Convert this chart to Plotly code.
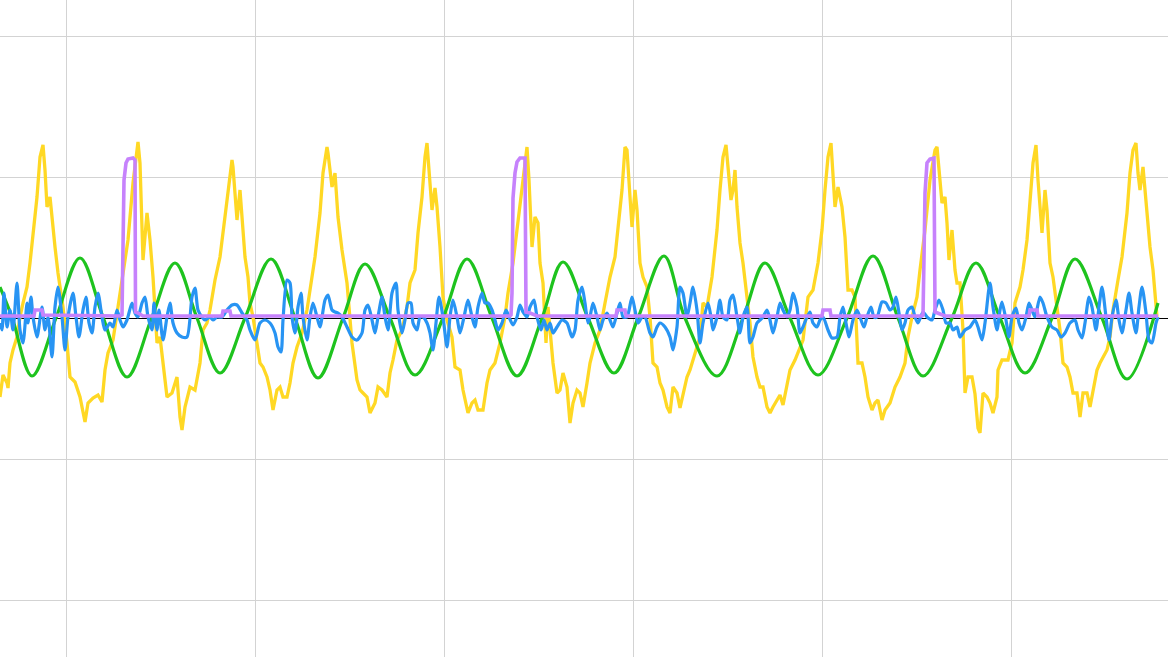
import plotly.graph_objects as go

# Time axis: sample index; vertical axis: ADC counts (1 division = 141 counts, 189 samples)
yellow_t = [0,3,7,8,10,13,17,20,23,27,30,33,37,40,43,45,47,50,52,55,58,63,67,70,75,80,85,88,93,98,102,105,108,113,118,123,128,133,137,138,140,143,147,150,153,157,160,163,167,172,177,180,182,185,190,195,200,203,207,210,215,220,225,228,232,233,237,240,242,245,248,250,253,257,260,263,267,270,273,277,280,283,287,290,293,297,302,307,310,315,320,323,327,328,332,335,338,342,347,350,352,357,360,363,367,370,375,378,382,387,390,393,397,402,407,410,415,418,422,425,427,429,432,435,437,440,443,447,452,455,460,463,468,472,475,478,483,487,490,495,500,505,508,513,518,523,527,529,532,535,538,540,543,546,548,553,557,560,563,567,570,573,577,580,583,587,590,595,600,605,610,615,618,622,625,627,630,632,635,637,640,643,647,650,653,657,660,663,667,670,673,677,680,683,687,690,695,700,703,707,712,717,720,723,726,728,731,733,735,737,740,743,747,750,753,757,760,763,767,770,773,777,780,783,787,790,795,798,803,808,813,818,822,825,828,831,833,835,838,842,845,848,852,855,858,862,865,868,872,875,878,882,885,890,895,900,905,908,912,917,920,925,930,935,937,939,942,945,947,949,952,955,957,960,963,965,968,972,975,978,980,983,987,990,993,997,998,1002,1008,1012,1015,1020,1023,1027,1030,1033,1036,1038,1042,1045,1047,1050,1053,1057,1060,1063,1067,1070,1073,1077,1080,1083,1087,1090,1093,1097,1100,1103,1107,1110,1113,1118,1122,1127,1130,1133,1136,1138,1140,1143,1147,1150,1153,1155,1157]
yellow_v = [-79,-57,-65,-70,-45,-32,-19,1,15,31,55,85,121,161,173,148,111,121,98,71,45,11,-25,-59,-64,-79,-104,-85,-80,-77,-84,-52,-35,-22,11,45,78,135,171,176,155,58,105,78,41,-25,-19,-45,-79,-75,-59,-99,-112,-89,-69,-72,-45,-12,-5,8,38,61,101,131,158,151,98,128,105,61,41,15,1,-25,-45,-49,-59,-72,-92,-72,-69,-79,-79,-65,-45,-29,-15,8,28,61,105,145,171,165,131,145,101,68,35,1,-25,-62,-72,-75,-79,-95,-85,-69,-72,-79,-55,-42,-22,-12,11,35,48,85,121,161,175,148,108,130,111,71,21,-2,-19,-49,-52,-72,-95,-85,-82,-92,-92,-65,-52,-45,-25,1,25,55,95,138,171,138,71,101,95,55,35,-25,11,-45,-75,-72,-55,-69,-105,-85,-72,-75,-89,-65,-45,-25,-12,15,41,61,88,128,171,168,121,91,128,108,55,41,31,1,-45,-49,-65,-72,-89,-95,-69,-75,-90,-75,-59,-52,-35,-19,15,11,41,88,128,161,173,148,118,128,148,111,75,55,21,-5,-39,-59,-69,-69,-89,-95,-89,-82,-77,-87,-65,-52,-42,-35,-22,21,28,55,88,128,161,175,145,111,131,111,81,28,28,21,-45,-45,-59,-79,-92,-85,-82,-102,-92,-85,-69,-59,-45,-19,1,21,48,88,138,168,171,145,115,121,95,58,88,48,35,35,-12,-75,-59,-59,-76,-110,-115,-75,-79,-85,-95,-79,-52,-42,-42,-25,15,31,48,78,121,155,173,138,85,128,108,55,41,8,-12,-45,-49,-59,-75,-75,-99,-75,-75,-89,-72,-52,-45,-39,-32,-19,8,38,61,105,145,168,175,145,128,151,108,71,48,21,1]

green_t = [0,12,32,56,80,103,127,152,175,197,220,245,271,295,318,343,365,390,415,443,467,492,517,542,563,588,614,638,664,685,717,743,765,790,818,847,873,898,923,952,976,1000,1025,1052,1075,1102,1127,1158]
green_v = [31,1,-58,0,60,1,-59,1,55,0,-55,0,59,0,-60,0,54,0,-57,0,59,0,-58,0,56,0,-55,0,62,0,-58,0,55,0,-57,0,62,0,-58,0,55,0,-55,0,59,0,-61,15]

blue_t = [0,2,4,7,10,13,17,20,23,27,28,31,33,37,42,45,48,52,55,58,62,65,68,73,76,79,83,86,89,92,95,98,102,105,110,113,117,120,123,127,132,135,138,142,145,148,152,154,157,159,163,167,170,173,177,182,187,192,195,198,202,205,210,213,217,222,227,232,237,242,247,250,255,260,265,270,275,278,281,283,287,290,292,295,298,301,303,307,310,313,317,320,325,328,332,335,338,342,347,352,357,362,365,368,372,375,378,382,385,388,392,396,398,402,405,408,411,413,417,420,423,427,430,433,436,439,443,447,450,453,457,460,464,468,472,475,478,482,485,488,492,495,498,502,506,509,513,517,520,523,527,530,534,537,541,544,547,550,553,557,562,567,572,575,578,582,585,588,590,593,597,600,603,607,610,613,617,620,623,627,632,635,638,642,645,650,653,657,660,665,670,673,677,680,683,687,690,693,697,700,703,708,711,713,717,720,723,727,730,733,737,740,743,747,750,753,757,760,763,767,770,773,777,780,783,787,790,793,797,800,803,807,810,813,817,820,823,828,832,837,840,843,846,849,853,857,861,864,867,871,874,877,882,886,890,893,896,899,902,905,908,912,915,918,923,927,932,935,939,943,946,950,953,957,960,965,970,975,978,982,985,990,993,997,1000,1002,1006,1009,1012,1016,1019,1022,1026,1029,1032,1035,1040,1043,1047,1052,1057,1061,1065,1070,1075,1078,1082,1085,1089,1092,1096,1099,1102,1106,1109,1112,1116,1119,1122,1126,1129,1132,1136,1139,1142,1146,1149,1152,1156,1158]
blue_v = [-5,-12,25,-9,8,-12,35,-12,-25,15,-5,21,1,-19,11,-12,1,-39,11,31,1,-32,1,25,1,-19,8,21,-5,-15,11,25,1,-12,-5,-9,8,-2,-9,-2,15,5,1,15,21,1,-12,15,-12,8,-22,1,15,-5,-15,-19,-19,21,30,8,1,-2,1,-2,1,1,8,13,13,5,-2,-12,-22,-5,-2,-5,-15,-29,-34,-2,38,35,1,-15,11,25,1,-22,1,15,1,-9,18,23,8,6,5,1,-9,-19,-22,-15,8,13,-2,-15,1,21,1,-12,25,35,8,-15,-2,15,15,-5,-12,1,1,-5,-15,-32,-5,21,1,-29,1,18,1,-15,1,18,1,-9,11,25,15,15,8,-2,-12,-5,8,1,-7,1,13,6,1,11,18,1,-12,-2,-12,-5,-15,-9,-2,-5,-19,-12,18,31,15,-5,1,15,1,-12,-2,5,-2,-9,5,15,1,1,21,8,-5,1,1,-15,-19,-9,-5,-9,-19,-32,-9,31,25,1,15,31,8,-25,-5,15,1,-12,1,18,1,-2,18,23,1,-15,1,11,-25,-19,-5,-2,1,8,-2,-15,1,15,8,1,8,25,11,-15,-9,1,6,-5,-9,-2,1,-12,-20,-19,1,11,-5,-19,-2,8,-2,-9,1,11,1,1,16,15,8,11,21,5,-12,-5,8,11,1,-5,6,1,-2,8,18,8,-5,-5,-12,-9,-19,-12,-9,-2,-9,-22,-5,35,11,-12,8,16,-2,-19,1,10,-5,-12,1,15,8,1,21,15,1,-9,-12,-19,-15,-5,-2,-12,-20,-5,21,11,-12,11,31,1,-22,1,18,-2,-15,8,25,5,-15,11,31,5,-22,-25,-5,1]

purple_t = [0,34,35,42,43,120,122,123,124,126,128,133,135,135.5,138,143,222,223,230,231,510,511,512,513,515,517,520,525,526,530,537,616,617,625,626,822,823,830,831,922,923,924,925,927,930,934,935,940,945,1029,1030,1037,1038,1158]
purple_v = [2,2,8,8,3,2,3,95,138,155,159,160,158,6,5,2,2,7,7,2,2,3,25,120,145,156,160,160,6,5,2,2,8,8,2,2,8,8,2,2,3,60,125,155,159,160,6,4,2,2,8,8,2,2]

fig = go.Figure()
fig.add_trace(go.Scatter(x=yellow_t, y=yellow_v, mode="lines",
                         line=dict(color="#FFD824", width=3.3), hoverinfo="skip"))
fig.add_trace(go.Scatter(x=green_t, y=green_v, mode="lines",
                         line=dict(color="#1EC31E", width=3.2, shape="spline", smoothing=1.0),
                         hoverinfo="skip"))
fig.add_trace(go.Scatter(x=blue_t, y=blue_v, mode="lines",
                         line=dict(color="#2894F3", width=3.2, shape="spline", smoothing=0.7),
                         hoverinfo="skip"))
fig.add_trace(go.Scatter(x=purple_t, y=purple_v, mode="lines",
                         line=dict(color="#C682FC", width=3.6), hoverinfo="skip"))

fig.update_layout(
    width=1168, height=657, autosize=False,
    margin=dict(l=0, r=0, t=0, b=0, pad=0),
    paper_bgcolor="white", plot_bgcolor="white",
    showlegend=False,
)
fig.update_xaxes(range=[0, 1168], tick0=66, dtick=189, showgrid=True,
                 gridcolor="#D3D3D3", gridwidth=1, zeroline=False,
                 showticklabels=False, ticks="", showline=False, fixedrange=True)
fig.update_yaxes(range=[-339, 318], tick0=0, dtick=141, showgrid=True,
                 gridcolor="#D3D3D3", gridwidth=1, zeroline=True,
                 zerolinecolor="black", zerolinewidth=1,
                 showticklabels=False, ticks="", showline=False, fixedrange=True)

fig.write_html("out.html", config={"displayModeBar": False},
               post_script="document.body.style.margin='0px';document.body.style.overflow='hidden';")
